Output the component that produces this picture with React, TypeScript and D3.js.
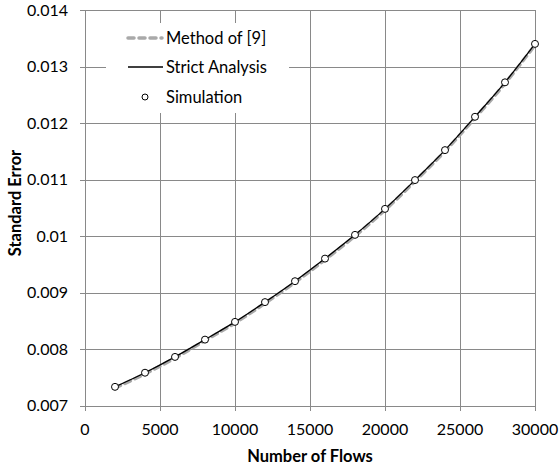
import React from "react";
import * as d3 from "d3";

// Number of flows sampled along the x axis
const flows = [2000, 4000, 6000, 8000, 10000, 12000, 14000, 16000, 18000, 20000, 22000, 24000, 26000, 28000, 30000];

// Standard error per series
const methodOf9 = [0.00731, 0.00756, 0.00784, 0.00815, 0.00846, 0.00881, 0.00918, 0.00958, 0.01000, 0.01046, 0.01097, 0.01150, 0.01209, 0.01270, 0.01338];
const strictAnalysis = [0.00733, 0.00758, 0.00786, 0.008166, 0.00848, 0.00883, 0.00920, 0.00960, 0.01002, 0.01048, 0.01099, 0.01152, 0.01211, 0.01272, 0.01340];
const simulation = [0.00733, 0.00758, 0.00786, 0.008166, 0.00848, 0.00883, 0.00920, 0.00960, 0.01002, 0.01048, 0.01099, 0.01152, 0.01211, 0.01272, 0.01340];

const xTicks = [0, 5000, 10000, 15000, 20000, 25000, 30000];
const yTicks = [0.007, 0.008, 0.009, 0.01, 0.011, 0.012, 0.013, 0.014];

const legendLabels = ["Method of [9]", "Strict Analysis", "Simulation"];

const W = 560;
const H = 467;
const FONT = "Lato, 'Open Sans', sans-serif";

export default function App() {
  const x = d3.scaleLinear().domain([0, 30000]).range([85, 535]);
  const y = d3.scaleLinear().domain([0.007, 0.014]).range([405.5, 10]);

  const line = d3
    .line<number>()
    .x((_, i) => x(flows[i]))
    .y((d) => y(d))
    .curve(d3.curveMonotoneX);

  const grid = "#898989";

  return (
    <svg width={W} height={H} style={{ position: "absolute", left: 0, top: 0, background: "#fff" }} fontFamily={FONT}>
      <rect x={0} y={0} width={W} height={H} fill="#fff" />
      {/* grid */}
      {yTicks.map((t) => (
        <line key={"gy" + t} x1={80} x2={535} y1={Math.round(y(t)) + 0.5} y2={Math.round(y(t)) + 0.5} stroke={grid} strokeWidth={1} />
      ))}
      {xTicks.map((t) => (
        <line key={"gx" + t} x1={Math.round(x(t)) + 0.5} x2={Math.round(x(t)) + 0.5} y1={10} y2={411} stroke={grid} strokeWidth={1} />
      ))}
      {/* legend background */}
      <rect x={106} y={23} width={183} height={90} fill="#fff" />
      {/* y tick labels */}
      {yTicks.map((t) => (
        <text key={"ty" + t} x={68} y={y(t)} dy="0.35em" textAnchor="end" fontSize={16} fill="#000">
          {String(t)}
        </text>
      ))}
      {/* x tick labels */}
      {xTicks.map((t) => (
        <text key={"tx" + t} x={x(t)} y={429} dy="0.35em" textAnchor="middle" fontSize={16} fill="#000">
          {String(t)}
        </text>
      ))}
      {/* axis titles */}
      <text x={310} y={456} dy="0.35em" textAnchor="middle" fontSize={16.5} fontWeight="bold" fill="#000">
        Number of Flows
      </text>
      <text transform="translate(15,203) rotate(-90)" dy="0.35em" textAnchor="middle" fontSize={16.5} fontWeight="bold" fill="#000">
        Standard Error
      </text>
      {/* series */}
      <path d={line(methodOf9) ?? ""} fill="none" stroke="#a9a9a9" strokeWidth={3.5} strokeDasharray="6,5" strokeLinecap="round" />
      <path d={line(strictAnalysis) ?? ""} fill="none" stroke="#000" strokeWidth={1.3} />
      {simulation.map((v, i) => (
        <circle key={"p" + i} cx={x(flows[i])} cy={y(v)} r={3.5} fill="#fff" stroke="#000" strokeWidth={1} />
      ))}
      {/* legend */}
      <line x1={128} x2={162} y1={38} y2={38} stroke="#a9a9a9" strokeWidth={3.5} strokeDasharray="6,5" strokeLinecap="round" />
      <text x={166} y={38} dy="0.35em" fontSize={16.5} fill="#000">{legendLabels[0]}</text>
      <line x1={128} x2={163} y1={67} y2={67} stroke="#000" strokeWidth={1.3} />
      <text x={166} y={67} dy="0.35em" fontSize={16.5} fill="#000">{legendLabels[1]}</text>
      <circle cx={145} cy={97} r={3} fill="#fff" stroke="#000" strokeWidth={1} />
      <text x={166} y={97} dy="0.35em" fontSize={16.5} fill="#000">{legendLabels[2]}</text>
    </svg>
  );
}
